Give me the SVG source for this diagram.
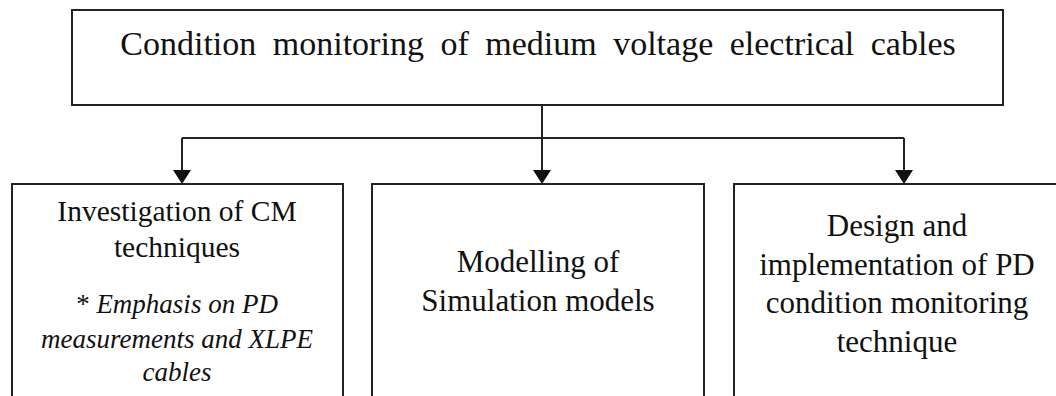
<svg xmlns="http://www.w3.org/2000/svg" width="1056" height="396" viewBox="0 0 1056 396">
<style>
.box{fill:#fff;stroke:#222;stroke-width:2}
.lbl{font-family:'Liberation Serif',serif;font-size:31px;fill:#111}
.sm{font-size:29.5px}
.i{font-style:italic;font-size:27px}
.c{fill:none;stroke:#222;stroke-width:2}
</style>
<rect width="1056" height="396" fill="#fff"/>
<g id="connectors">
<path class="c" d="M542,105 V138"/>
<path class="c" d="M182,138 H904"/>
<path class="c" d="M182,138 V171"/>
<path class="c" d="M542,138 V171"/>
<path class="c" d="M904,138 V171"/>
<path d="M173,170 L191,170 L182,184 Z" fill="#111"/>
<path d="M533,170 L551,170 L542,184 Z" fill="#111"/>
<path d="M895,170 L913,170 L904,184 Z" fill="#111"/>
</g>
<g id="top">
<rect class="box" x="72" y="10" width="931" height="95"/>
<text class="lbl" style="font-size:34px" text-anchor="middle" x="538" y="55" word-spacing="8">Condition monitoring of medium voltage electrical cables</text>
</g>
<g id="left">
<rect class="box" x="12" y="184" width="331" height="230"/>
<text class="lbl sm" text-anchor="middle" x="177" y="221">Investigation of CM</text>
<text class="lbl sm" text-anchor="middle" x="177" y="257">techniques</text>
<text class="lbl" text-anchor="middle" x="177" y="313" style="font-size:27px">* <tspan class="i">Emphasis on PD</tspan></text>
<text class="lbl i" text-anchor="middle" x="177" y="348">measurements and XLPE</text>
<text class="lbl i" text-anchor="middle" x="177" y="381">cables</text>
</g>
<g id="middle">
<rect class="box" x="372" y="184" width="332" height="230"/>
<text class="lbl" text-anchor="middle" x="538" y="272">Modelling of</text>
<text class="lbl" text-anchor="middle" x="538" y="311">Simulation models</text>
</g>
<g id="right">
<rect class="box" x="734" y="184" width="330" height="230"/>
<text class="lbl" text-anchor="middle" x="897" y="236">Design and</text>
<text class="lbl" text-anchor="middle" x="897" y="275">implementation of PD</text>
<text class="lbl" text-anchor="middle" x="897" y="313">condition monitoring</text>
<text class="lbl" text-anchor="middle" x="897" y="352">technique</text>
</g>
</svg>
